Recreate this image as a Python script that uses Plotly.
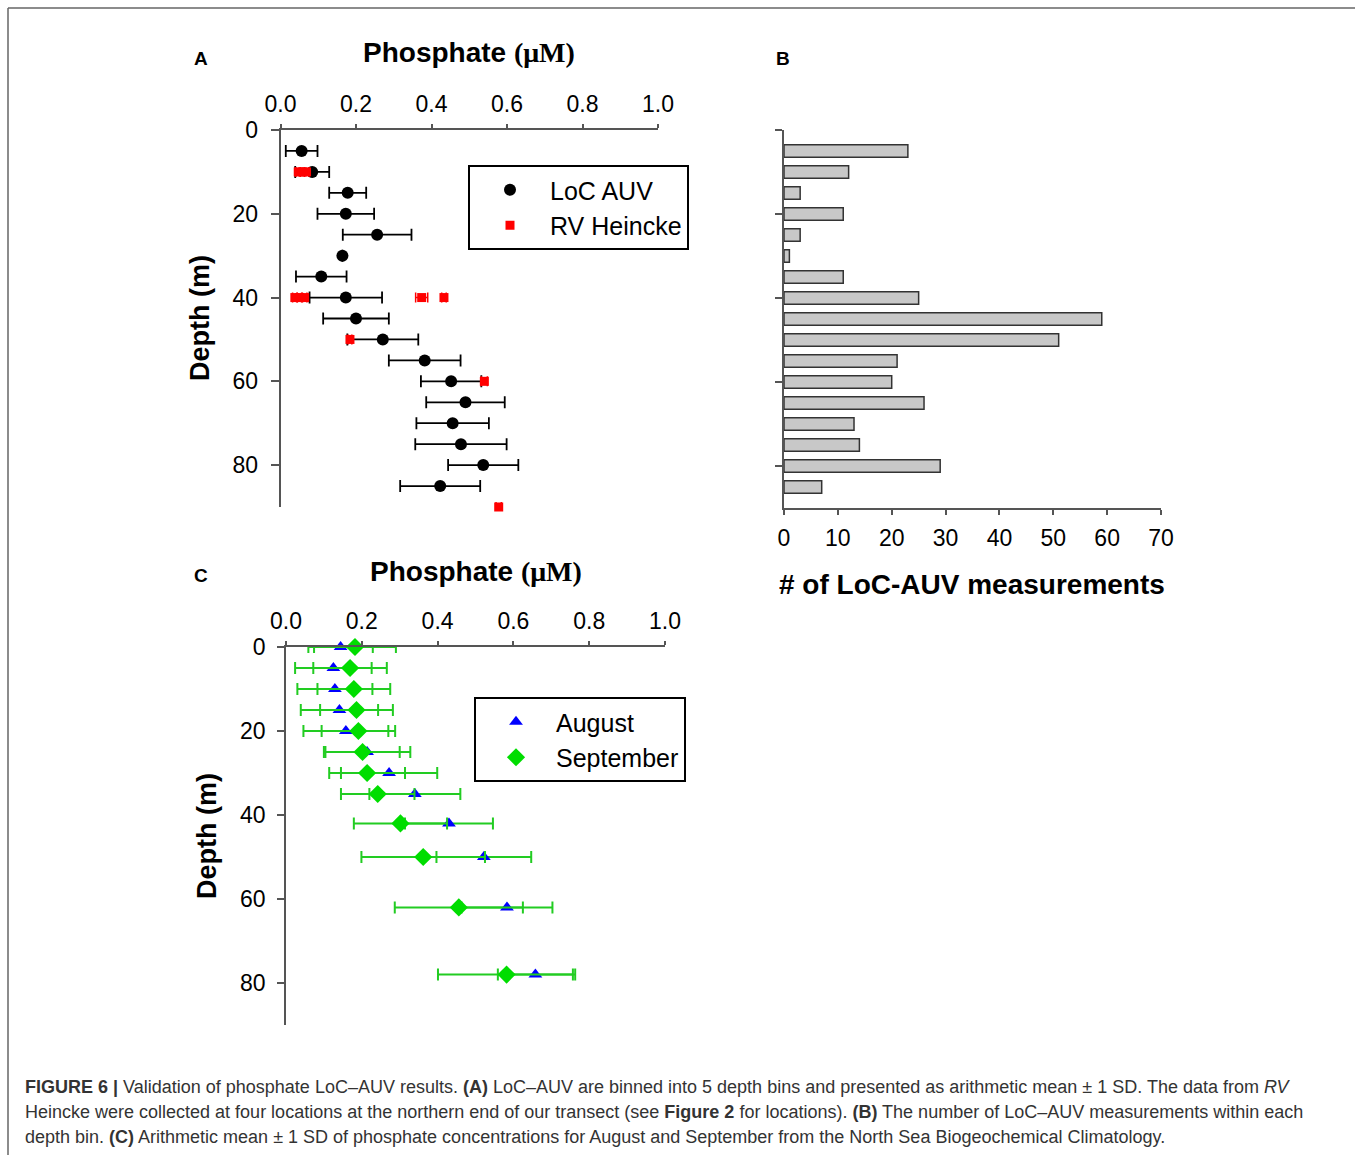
import plotly.graph_objects as go

# ---------------- data ----------------
# Panel A: LoC AUV binned means and SD
auv_depth = [5, 10, 15, 20, 25, 30, 35, 40, 45, 50, 55, 60, 65, 70, 75, 80, 85]
auv_mean = [0.056, 0.084, 0.178, 0.173, 0.256, 0.164, 0.108, 0.173, 0.200, 0.271,
            0.382, 0.452, 0.490, 0.456, 0.478, 0.537, 0.423]
auv_sd = [0.042, 0.045, 0.049, 0.075, 0.091, 0.0, 0.067, 0.096, 0.087, 0.094,
          0.095, 0.080, 0.104, 0.096, 0.121, 0.093, 0.106]

# Panel A: RV Heincke samples
rv_depth = [10, 10, 10, 40, 40, 40, 40, 40, 50, 60, 90]
rv_value = [0.047, 0.058, 0.069, 0.038, 0.050, 0.064, 0.374, 0.433, 0.184, 0.540, 0.578]
rv_sd = [0.006, 0.006, 0.006, 0.006, 0.006, 0.006, 0.016, 0.006, 0.005, 0.008, 0.007]

# Panel B: number of LoC-AUV measurements per depth bin
bin_depth = [5, 10, 15, 20, 25, 30, 35, 40, 45, 50, 55, 60, 65, 70, 75, 80, 85]
bin_count = [23, 12, 3, 11, 3, 1, 11, 25, 59, 51, 21, 20, 26, 13, 14, 29, 7]

# Panel C: climatology
clim_depth = [0, 5, 10, 15, 20, 25, 30, 35, 42, 50, 62, 78]
aug_mean = [0.144, 0.125, 0.129, 0.141, 0.158, 0.214, 0.272, 0.340, 0.430, 0.522, 0.583, 0.658]
aug_sd = [0.085, 0.101, 0.099, 0.102, 0.112, 0.114, 0.127, 0.120, 0.116, 0.125, 0.120, 0.099]
sep_mean = [0.182, 0.169, 0.179, 0.186, 0.191, 0.202, 0.214, 0.242, 0.302, 0.362, 0.456, 0.582]
sep_sd = [0.108, 0.097, 0.096, 0.096, 0.097, 0.098, 0.100, 0.097, 0.123, 0.163, 0.169, 0.181]

phos_ticks = [0.0, 0.2, 0.4, 0.6, 0.8, 1.0]
depth_ticks = [0, 20, 40, 60, 80]
count_ticks = [0, 10, 20, 30, 40, 50, 60, 70]

# ---------------- figure ----------------
W, H = 1355, 1155
SANS = "Liberation Sans, Arial, sans-serif"
AXC = "#555555"


def px(x):
    return x / W


def py(y):
    return 1 - y / H


fig = go.Figure()

# Panel A
fig.add_trace(go.Scatter(
    x=auv_mean, y=auv_depth, mode="markers", name="LoC AUV",
    marker=dict(symbol="circle", size=12, color="black"),
    error_x=dict(type="data", array=auv_sd, color="black", thickness=1.8, width=6),
    xaxis="x", yaxis="y", cliponaxis=False, legend="legend"))
fig.add_trace(go.Scatter(
    x=rv_value, y=rv_depth, mode="markers", name="RV Heincke",
    marker=dict(symbol="square", size=9, color="#ff0000"),
    error_x=dict(type="data", array=rv_sd, color="#ff0000", thickness=1.5, width=5),
    xaxis="x", yaxis="y", cliponaxis=False, legend="legend"))

# Panel B
fig.add_trace(go.Bar(
    x=bin_count, y=bin_depth, orientation="h", width=3.0,
    marker=dict(color="#c8c8c8", line=dict(color="#333333", width=1.5)),
    xaxis="x2", yaxis="y2", showlegend=False))

# Panel C
fig.add_trace(go.Scatter(
    x=aug_mean, y=clim_depth, mode="markers", name="August",
    marker=dict(symbol="triangle-up", size=12, color="#0000ff"),
    error_x=dict(type="data", array=aug_sd, color="#22cc22", thickness=2, width=6),
    xaxis="x3", yaxis="y3", cliponaxis=False, legend="legend2"))
fig.add_trace(go.Scatter(
    x=sep_mean, y=clim_depth, mode="markers", name="September",
    marker=dict(symbol="diamond", size=14, color="#00dd00"),
    error_x=dict(type="data", array=sep_sd, color="#22cc22", thickness=2, width=6),
    xaxis="x3", yaxis="y3", cliponaxis=False, legend="legend2"))

tickfont = dict(family=SANS, size=23, color="black")

common_x = dict(showline=True, linecolor=AXC, linewidth=1.5, ticks="outside",
                tickcolor=AXC, tickwidth=1.5, showgrid=False, zeroline=False,
                tickfont=tickfont, fixedrange=True, automargin=False)
common_y = dict(showline=True, linecolor=AXC, linewidth=1.5, ticks="outside",
                tickcolor=AXC, tickwidth=1.5, showgrid=False, zeroline=False,
                tickfont=tickfont, fixedrange=True, automargin=False)

legend_font = dict(family=SANS, size=25, color="black")

fig.update_layout(
    width=W, height=H, autosize=False,
    margin=dict(l=0, r=0, t=0, b=0, pad=0, autoexpand=False),
    paper_bgcolor="white", plot_bgcolor="rgba(0,0,0,0)",
    font=dict(family=SANS, color="black"),
    xaxis=dict(common_x, domain=[px(280.5), px(658)], range=[0, 1], side="top",
               tickvals=phos_ticks, tickformat=".1f", ticklen=4, anchor="y",
               ticklabelstandoff=3),
    yaxis=dict(common_y, domain=[py(507), py(130)], range=[90, 0],
               tickvals=depth_ticks, ticklen=8, anchor="x", ticklabelstandoff=8),
    xaxis2=dict(common_x, domain=[px(784), px(1161)], range=[0, 70], side="bottom",
                tickvals=count_ticks, ticklen=5, anchor="y2", ticklabelstandoff=4),
    yaxis2=dict(common_y, domain=[py(508), py(130)], range=[90, 0],
                tickvals=depth_ticks, ticklen=7, showticklabels=False, anchor="x2"),
    xaxis3=dict(common_x, domain=[px(286), px(665)], range=[0, 1], side="top",
                tickvals=phos_ticks, tickformat=".1f", ticklen=4, anchor="y3",
                ticklabelstandoff=3),
    yaxis3=dict(common_y, domain=[py(1025), py(647)], range=[90, 0],
                tickvals=depth_ticks, ticklen=7, anchor="x3", ticklabelstandoff=7),
    legend=dict(x=px(468), y=py(165), xanchor="left", yanchor="top",
                bordercolor="black", borderwidth=2, bgcolor="white",
                font=legend_font, itemwidth=70, tracegroupgap=0),
    legend2=dict(x=px(474), y=py(697), xanchor="left", yanchor="top",
                 bordercolor="black", borderwidth=2, bgcolor="white",
                 font=legend_font, itemwidth=70, tracegroupgap=0),
)

ann = []


def label(text, x, y, size, **kw):
    d = dict(text=text, x=px(x), y=py(y), xref="paper", yref="paper",
             xanchor="center", yanchor="middle",
             showarrow=False, font=dict(family=SANS, size=size, color="black"))
    d.update(kw)
    ann.append(d)


title_txt = ("<b>Phosphate <span style='font-family:Liberation Serif, Times New Roman, serif'>"
             "(\u03bcM)</span></b>")
label(title_txt, 469, 53, 28)
label(title_txt, 476, 571, 28)
label("<b>Depth (m)</b>", 200, 318, 27, textangle=-90)
label("<b>Depth (m)</b>", 207, 836, 27, textangle=-90)
label("<b># of LoC-AUV measurements</b>", 972, 585, 28)
label("<b>A</b>", 201, 59, 19)
label("<b>B</b>", 783, 59, 19)
label("<b>C</b>", 201, 575, 19)

cap_lines = [
    "<b>FIGURE 6 |</b> Validation of phosphate LoC\u2013AUV results. <b>(A)</b> LoC\u2013AUV are binned "
    "into 5 depth bins and presented as arithmetic mean \u00b1 1 SD. The data from <i>RV</i>",
    "Heincke were collected at four locations at the northern end of our transect (see "
    "<b>Figure 2</b> for locations). <b>(B)</b> The number of LoC\u2013AUV measurements within each",
    "depth bin. <b>(C)</b> Arithmetic mean \u00b1 1 SD of phosphate concentrations for August and "
    "September from the North Sea Biogeochemical Climatology.",
]
for i, t in enumerate(cap_lines):
    ann.append(dict(text=t, x=px(23), y=py(1087 + 25 * i), xref="paper", yref="paper",
                    xanchor="left", yanchor="middle", showarrow=False,
                    font=dict(family=SANS, size=18, color="#333333")))

fig.update_layout(annotations=ann)

# frame lines (top and left)
fig.update_layout(shapes=[
    dict(type="line", xref="paper", yref="paper", x0=px(8), x1=1, y0=py(8), y1=py(8),
         line=dict(color="#666666", width=1.5)),
    dict(type="line", xref="paper", yref="paper", x0=px(8), x1=px(8), y0=py(8), y1=0,
         line=dict(color="#666666", width=1.5)),
])

page_css = ("document.body.style.margin='0';document.body.style.padding='0';"
            "document.documentElement.style.overflow='hidden';")

fig.write_html("out.html", post_script=page_css, config={"displayModeBar": False})
